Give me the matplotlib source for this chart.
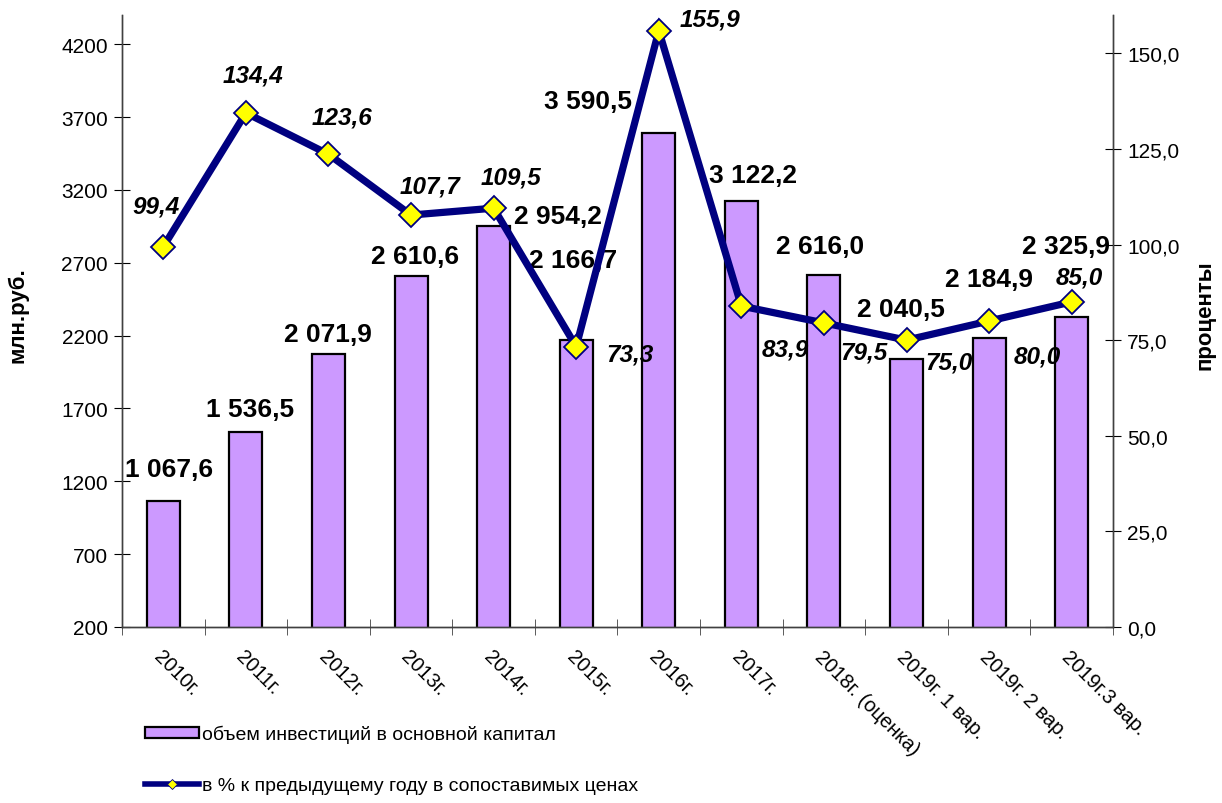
import numpy as np
import matplotlib.pyplot as plt
from matplotlib.patches import Patch
from matplotlib.lines import Line2D

# ── data ──────────────────────────────────────────────────────────────────────
years = ["2010г.", "2011г.", "2012г.", "2013г.", "2014г.", "2015г.", "2016г.",
         "2017г.", "2018г. (оценка)", "2019г. 1 вар.", "2019г. 2 вар.", "2019г.3 вар."]
invest = [1067.6, 1536.5, 2071.9, 2610.6, 2954.2, 2166.7, 3590.5,
          3122.2, 2616.0, 2040.5, 2184.9, 2325.9]
pct = [99.4, 134.4, 123.6, 107.7, 109.5, 73.3, 155.9,
       83.9, 79.5, 75.0, 80.0, 85.0]
invest_labels = ["1 067,6", "1 536,5", "2 071,9", "2 610,6", "2 954,2", "2 166,7",
                 "3 590,5", "3 122,2", "2 616,0", "2 040,5", "2 184,9", "2 325,9"]

# label offsets in pixels (dx, dy) – placement as in the source chart
bar_off = [(6, 32), (4, 23), (-1, 20), (4, 20), (64, 10), (-3, 80),
           (-71, 32), (12, 26), (-4, 29), (-6, 50), (0, 59), (-6, 71)]
line_off = [(-7, 41), (7, 38), (14, 37), (19, 29), (17, 31), (54, -7),
            (51, 12), (44, -43), (40, -29), (42, -22), (48, -35), (8, 25)]

SANS = ["Liberation Sans", "DejaVu Sans"]
NARROW = ["Liberation Sans Narrow", "Liberation Sans", "DejaVu Sans"]
plt.rcParams["font.family"] = SANS

fig = plt.figure(figsize=(12.22, 8.04), dpi=100)
ax = fig.add_axes([122 / 1222, 1 - 628 / 804, (1113 - 122) / 1222, (628 - 16) / 804])
ax2 = ax.twinx()

x = np.arange(len(years))
ax.bar(x, invest, width=0.40, bottom=0, color="#CC99FF", edgecolor="black", linewidth=1.6, zorder=2)
ax.set_ylim(200, 4400)
ax.set_xlim(-0.5, len(years) - 0.5)

ax2.plot(x, pct, color="#000080", lw=5.2, marker="D", ms=12.5, mfc="#FFFF00",
         mec="#000080", mew=1.3, zorder=3, solid_joinstyle="miter")
ax2.set_ylim(0, 160)

# bar value labels
for xi, v, t, (dx, dy) in zip(x, invest, invest_labels, bar_off):
    ax.annotate(t, (xi, v), xytext=(dx, dy), textcoords="offset pixels",
                ha="center", va="center", fontsize=19, fontweight="bold", zorder=1)

# percentage labels
for xi, v, (dx, dy) in zip(x, pct, line_off):
    ax2.annotate(f"{v:.1f}".replace(".", ","), (xi, v), xytext=(dx, dy),
                 textcoords="offset pixels", ha="center", va="center",
                 fontsize=17.5, fontweight="bold", fontstyle="italic")

# axes styling
for a in (ax, ax2):
    a.spines["top"].set_visible(False)
    for s in ("left", "right", "bottom"):
        a.spines[s].set_color("#404040")
        a.spines[s].set_linewidth(1.0)

ax.set_yticks(np.arange(200, 4201, 500))
ax.tick_params(axis="y", direction="inout", length=12, labelsize=15, pad=4)
ax2.set_yticks(np.arange(0, 151, 25))
ax2.set_yticklabels([f"{t:.1f}".replace(".", ",") for t in np.arange(0, 151, 25)])
ax2.tick_params(axis="y", direction="inout", length=12, labelsize=15, pad=4)

ax.set_xticks(x)
ax.set_xticklabels(years, rotation=-45, ha="left", rotation_mode="anchor",
                   fontsize=14.5, family=NARROW)
ax.tick_params(axis="x", length=0, pad=14)
ax.set_xticks(np.arange(-0.5, len(years), 1), minor=True)
ax.tick_params(axis="x", which="minor", direction="inout", length=12, color="#404040")

fig.text(18 / 1222, 1 - 315 / 804, "млн.руб.", rotation=90, ha="center", va="center",
         fontsize=16, fontweight="bold")
fig.text(1205 / 1222, 1 - 315 / 804, "проценты", rotation=90, ha="center", va="center",
         fontsize=16, fontweight="bold")

handles = [Patch(facecolor="#CC99FF", edgecolor="black", linewidth=1.6),
           Line2D([0], [0], color="#000080", lw=4, marker="D", ms=5,
                  mfc="#FFFF00", mec="#000080", mew=0.6)]
fig.legend(handles, ["объем инвестиций в основной капитал",
                     "в % к предыдущему году в сопоставимых ценах"],
           loc="upper left", bbox_to_anchor=(145 / 1222, 1 - 726 / 804),
           frameon=False, handlelength=2.8, handleheight=0.55, handletextpad=0.15,
           labelspacing=1.75, borderaxespad=0, borderpad=0,
           prop={"family": NARROW, "size": 14})

fig.savefig("out.png", dpi=100)
